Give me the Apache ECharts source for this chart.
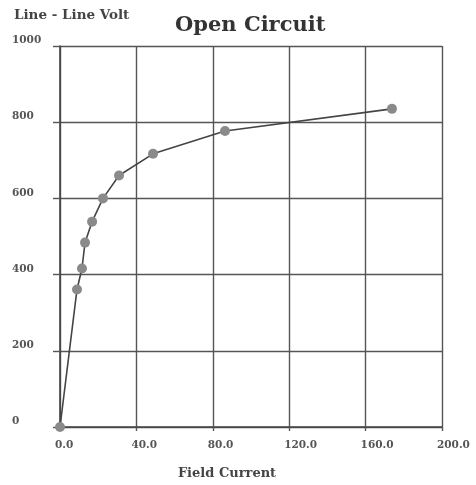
<!DOCTYPE html>
<html>
<head>
<meta charset="utf-8">
<script src="https://cdn.jsdelivr.net/npm/echarts@6/dist/echarts.min.js"></script>
<style>
  html, body { margin: 0; padding: 0; background: #fff; }
  #chart { width: 476px; height: 485px; }
</style>
</head>
<body>
<div id="chart"></div>
<script>
// Open-circuit characteristic: field current vs line-to-line voltage
const fieldCurrent = [0, 8.9, 11.5, 13.1, 16.8, 22.5, 30.9, 48.7, 86.4, 173.8];
const lineVolt     = [0, 361, 416, 484, 539, 600, 660, 717, 777, 835];
const xTicks = [0, 40, 200];
const yTicks = [0, 200, 1000];

const points = fieldCurrent.map((x, i) => [x, lineVolt[i]]);

const serif = 'DejaVu Serif';
const gridLine = { show: true, lineStyle: { color: '#555', width: 1.4 } };

const chart = echarts.init(document.getElementById('chart'), null, { renderer: 'canvas' });
chart.setOption({
  animation: false,
  backgroundColor: '#fff',
  title: {
    text: 'Open Circuit',
    left: 170,
    top: 10,
    textStyle: { fontFamily: serif, fontWeight: 'bold', fontSize: 21, color: '#333' }
  },
  grid: { left: 60, right: 34, top: 46, bottom: 57 },
  xAxis: {
    type: 'value',
    min: xTicks[0],
    max: xTicks[2],
    interval: xTicks[1],
    name: 'Field Current',
    nameLocation: 'middle',
    nameGap: 40,
    nameTextStyle: { fontFamily: serif, fontWeight: 'bold', fontSize: 13, color: '#444', padding: [0, 48, 0, 0] },
    axisLine: { show: true, lineStyle: { color: '#444', width: 1.6 } },
    axisTick: { show: true, length: 4, lineStyle: { color: '#555', width: 1.4 } },
    axisLabel: {
      fontFamily: serif, fontWeight: 'bold', fontSize: 10.5, color: '#555', margin: 13,
      align: 'left', padding: [0, 0, 0, -5],
      formatter: v => v.toFixed(1)
    },
    splitLine: gridLine
  },
  yAxis: {
    type: 'value',
    min: yTicks[0],
    max: yTicks[2],
    interval: yTicks[1],
    name: 'Line - Line Volt',
    nameLocation: 'end',
    nameGap: 24,
    nameTextStyle: { fontFamily: serif, fontWeight: 'bold', fontSize: 13.5, color: '#444', align: 'left', padding: [0, 0, 0, -46] },
    axisLine: { show: true, lineStyle: { color: '#444', width: 1.6 } },
    axisTick: { show: true, length: 7, lineStyle: { color: '#555', width: 1.4 } },
    axisLabel: {
      fontFamily: serif, fontWeight: 'bold', fontSize: 10.5, color: '#555', margin: 48,
      align: 'left', verticalAlign: 'bottom',
      formatter: v => String(v)
    },
    splitLine: gridLine
  },
  series: [{
    type: 'line',
    data: points,
    symbol: 'circle',
    symbolSize: 10,
    itemStyle: { color: '#8a8a8a' },
    lineStyle: { color: '#444', width: 1.6 }
  }]
});
</script>
</body>
</html>
